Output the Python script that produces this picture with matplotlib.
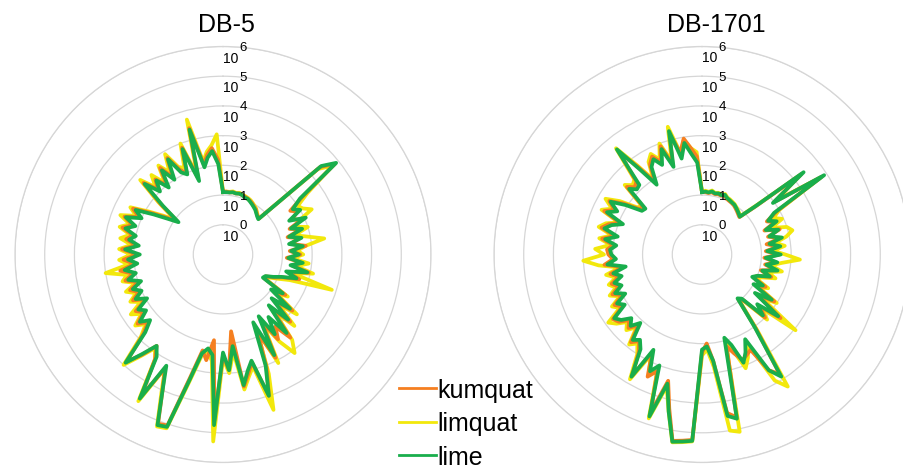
import numpy as np
import matplotlib
matplotlib.use('Agg')
import matplotlib.pyplot as plt
from matplotlib.lines import Line2D

plt.rcParams['font.family'] = ['Liberation Sans', 'DejaVu Sans']

# peak intensities, as powers of ten
# one compound every 3 degrees, clockwise from the top
kumquat_db5 = [
    1.12, 1.12, 1.1, 1.12, 1.1, 1.12, 1.1, 1.08, 1.05, 1.02, 0.98, 0.92, 0.88, 0.8, 0.74,
    0.7, 3.4, 3.85, 2.3, 1.7, 1.9, 1.6, 1.9, 1.4, 1.75, 1.25, 1.65, 1.3, 1.8, 1.25,
    1.6, 1.15, 1.65, 1.35, 1.95, 1.25, 1.7, 1.15, 0.9, 0.62, 0.6, 1.5, 1.1, 2.0, 1.3,
    2.2, 1.45, 2.6, 2.0, 2.4, 1.6, 2.9, 1.9, 3.1, 4.0, 2.75, 3.1, 3.5, 1.6, 2.9,
    2.4, 4.6, 1.9, 2.6, 2.3, 3.3, 5.05, 5.1, 4.0, 3.3, 4.5, 3.2, 2.8, 3.35, 3.85,
    2.8, 2.4, 2.7, 2.3, 2.5, 2.0, 2.4, 2.1, 2.35, 2.0, 2.4, 2.1, 2.5, 2.0, 2.35,
    1.9, 2.4, 1.95, 2.3, 2.1, 2.5, 2.2, 2.55, 2.1, 2.4, 1.8, 1.3, 0.9, 1.7, 2.6,
    2.1, 2.4, 2.0, 2.6, 2.1, 2.75, 2.2, 2.0, 2.85, 1.7, 3.4, 2.1, 2.4, 2.6, 2.2]
limquat_db5 = [
    1.1, 1.12, 1.12, 1.15, 1.12, 1.15, 1.12, 1.1, 1.08, 1.05, 1.0, 0.95, 0.9, 0.82, 0.75,
    0.72, 3.3, 3.75, 2.5, 2.0, 2.1, 2.35, 1.8, 1.6, 2.0, 1.5, 1.9, 2.45, 1.8, 1.5,
    1.7, 1.35, 1.9, 1.5, 2.1, 1.4, 2.85, 1.4, 1.0, 0.7, 0.65, 1.6, 1.2, 2.2, 1.5,
    2.4, 1.6, 2.7, 3.1, 2.5, 1.7, 3.1, 1.8, 3.3, 4.5, 2.9, 3.2, 3.6, 2.3, 3.0,
    2.5, 5.3, 2.6, 2.3, 2.5, 3.5, 5.15, 5.2, 4.1, 3.3, 4.7, 3.2, 2.9, 3.4, 4.0,
    2.9, 2.5, 2.8, 2.4, 2.7, 2.2, 2.5, 2.2, 2.5, 2.1, 2.5, 2.3, 3.0, 2.2, 2.5,
    2.1, 2.5, 2.1, 2.5, 2.2, 2.6, 2.3, 2.7, 2.2, 2.5, 1.9, 1.4, 1.0, 1.8, 2.75,
    2.2, 2.6, 2.1, 2.7, 2.3, 2.9, 2.3, 2.2, 3.0, 1.8, 3.7, 2.2, 2.5, 2.7, 3.05]
lime_db5 = [
    1.1, 1.1, 1.1, 1.12, 1.1, 1.12, 1.1, 1.05, 1.05, 1.0, 0.95, 0.9, 0.85, 0.78, 0.72,
    0.68, 3.45, 3.9, 2.2, 1.8, 2.0, 1.5, 2.05, 1.45, 1.8, 1.3, 1.7, 1.25, 1.7, 1.3,
    1.55, 1.2, 1.7, 1.3, 1.9, 1.2, 1.6, 1.1, 0.85, 0.6, 0.55, 1.4, 1.0, 1.9, 1.2,
    2.1, 1.3, 2.4, 1.6, 2.2, 1.4, 2.8, 1.5, 3.0, 4.0, 2.7, 3.0, 3.45, 2.1, 2.9,
    2.3, 4.75, 2.4, 2.2, 2.4, 3.4, 5.1, 5.15, 4.0, 3.2, 4.6, 3.1, 2.8, 3.3, 3.9,
    2.7, 2.3, 2.6, 2.2, 2.4, 1.95, 2.3, 2.0, 2.25, 1.9, 2.3, 2.0, 2.35, 1.9, 2.2,
    1.8, 2.3, 1.85, 2.2, 2.0, 2.4, 2.1, 2.5, 2.0, 2.3, 1.7, 1.2, 0.85, 1.6, 2.55,
    2.0, 2.35, 1.9, 2.5, 2.0, 2.7, 2.1, 1.95, 2.8, 1.6, 3.35, 2.0, 2.3, 2.5, 2.05]

kumquat_db1701 = [
    1.1, 1.1, 1.08, 1.12, 1.08, 1.1, 1.08, 1.12, 1.05, 1.02, 1.0, 0.97, 0.92, 0.87, 0.82,
    0.78, 1.4, 3.3, 2.0, 3.8, 1.9, 1.45, 1.7, 1.25, 1.75, 1.3, 1.7, 1.2, 1.6, 1.15,
    1.6, 1.1, 1.5, 1.15, 1.55, 1.05, 1.45, 1.0, 0.9, 1.4, 1.1, 1.9, 1.3, 2.4, 1.6,
    2.0, 1.05, 0.95, 2.1, 3.8, 3.5, 2.6, 2.7, 2.8, 2.5, 2.2, 4.6, 4.4, 2.6, 2.0,
    2.3, 5.25, 5.3, 5.35, 4.3, 3.4, 4.6, 3.2, 3.5, 2.7, 3.7, 2.9, 2.6, 2.8, 2.2,
    2.5, 2.3, 2.6, 2.7, 2.2, 2.4, 2.0, 2.3, 2.0, 2.2, 1.9, 2.15, 1.7, 2.3, 2.0,
    2.15, 2.2, 2.0, 2.4, 2.0, 2.5, 2.3, 1.95, 2.6, 2.3, 2.6, 2.15, 1.6, 1.55, 2.4,
    2.2, 2.3, 3.45, 2.6, 1.9, 2.5, 2.7, 2.4, 2.9, 2.2, 3.2, 2.5, 2.95, 2.6, 2.3]
limquat_db1701 = [
    1.12, 1.15, 1.12, 1.18, 1.12, 1.15, 1.12, 1.18, 1.1, 1.08, 1.05, 1.02, 0.97, 0.92, 0.87,
    0.82, 1.5, 3.2, 2.1, 3.75, 2.0, 1.7, 1.95, 1.5, 2.0, 2.15, 1.9, 1.5, 1.8, 1.4,
    1.8, 2.3, 1.7, 1.35, 1.75, 1.3, 1.6, 1.15, 1.0, 1.5, 1.2, 2.0, 1.5, 3.05, 1.7,
    2.1, 1.1, 1.0, 2.2, 4.3, 3.9, 2.4, 2.8, 3.1, 2.4, 2.1, 5.1, 5.0, 2.8, 2.2,
    2.4, 5.3, 5.35, 5.4, 4.4, 3.6, 4.8, 3.2, 3.4, 2.8, 3.85, 3.0, 2.7, 2.9, 2.3,
    2.6, 2.4, 2.7, 2.9, 2.3, 2.5, 2.1, 2.4, 2.1, 2.3, 2.0, 2.3, 1.8, 2.5, 3.0,
    2.3, 2.6, 2.1, 2.5, 2.1, 2.6, 2.4, 2.0, 2.7, 2.4, 2.75, 2.3, 1.7, 1.6, 2.5,
    2.3, 2.4, 3.6, 2.7, 2.0, 2.6, 2.8, 2.5, 3.0, 2.3, 3.45, 2.5, 2.9, 2.6, 2.45]
lime_db1701 = [
    1.1, 1.12, 1.1, 1.15, 1.1, 1.13, 1.1, 1.15, 1.08, 1.05, 1.02, 1.0, 0.95, 0.9, 0.85,
    0.8, 1.45, 3.4, 1.95, 3.9, 1.8, 1.5, 1.75, 1.3, 1.7, 1.35, 1.75, 1.3, 1.65, 1.2,
    1.65, 1.15, 1.55, 1.2, 1.6, 1.1, 1.4, 1.0, 0.85, 1.3, 1.0, 1.8, 1.2, 2.3, 1.5,
    1.9, 1.0, 0.9, 2.0, 3.9, 3.5, 2.2, 2.6, 2.9, 2.2, 1.9, 4.65, 4.5, 2.6, 2.1,
    2.2, 5.28, 5.33, 5.38, 4.4, 3.5, 4.73, 3.0, 3.3, 2.6, 3.75, 2.8, 2.55, 2.7, 2.1,
    2.4, 2.2, 2.5, 2.65, 2.1, 2.3, 1.9, 2.2, 1.9, 2.1, 1.8, 2.05, 1.6, 2.2, 1.9,
    2.05, 2.1, 1.9, 2.3, 1.9, 2.4, 2.2, 1.85, 2.5, 2.2, 2.55, 2.05, 1.5, 1.45, 2.3,
    2.1, 2.15, 3.55, 2.5, 1.8, 2.4, 2.6, 2.3, 2.8, 2.1, 3.3, 2.3, 2.8, 2.4, 2.1]

names = ['kumquat', 'limquat', 'lime']
colors = ['#F57F20', '#F2E80C', '#19AE4C']
decades = [0, 1, 2, 3, 4, 5, 6]

W, H = 904, 471
R = 208      # radius of the 10^6 ring, pixels
CY = 254.5

fig = plt.figure(figsize=(W / 100, H / 100), dpi=100)

panels = [('DB-5', 223, 226.5, [kumquat_db5, limquat_db5, lime_db5]),
          ('DB-1701', 702, 716, [kumquat_db1701, limquat_db1701, lime_db1701])]

for title, cx, tx, series in panels:
    ax = fig.add_axes([(cx - R) / W, (H - CY - R) / H, 2 * R / W, 2 * R / H],
                      projection='polar')
    ax.set_theta_zero_location('N')
    ax.set_theta_direction(-1)

    n = len(series[0])
    theta = np.deg2rad(np.arange(n + 1) * 360.0 / n)
    # yellow first, then orange, green on top
    for k in [1, 0, 2]:
        vals = np.append(series[k], series[k][0])
        ax.plot(theta, vals, color=colors[k], lw=2.7, label=names[k])

    ax.set_ylim(-1, 6)
    ax.set_yticks(decades)
    ax.set_yticklabels([])
    ax.set_xticks([])
    ax.grid(True, color='#d6d6d6', lw=0.9)
    ax.spines['polar'].set_color('#d6d6d6')
    ax.spines['polar'].set_linewidth(0.9)

    for d in decades:
        ax.annotate('10', xy=(0, d), xytext=(0, -5), textcoords='offset pixels',
                    ha='left', va='top', fontsize=10, zorder=10)
        ax.annotate(str(d), xy=(0, d), xytext=(16.5, 4.5), textcoords='offset pixels',
                    ha='left', va='top', fontsize=9.5, zorder=10)

    fig.text(tx / W, 1 - 32 / H, title, ha='center', va='baseline', fontsize=18)

# legend: short line at x-height level, label to its right
leg_rows = [388, 421.5, 455]
for k in range(3):
    y = 1 - leg_rows[k] / H
    fig.add_artist(Line2D([399 / W, 436 / W], [y, y], transform=fig.transFigure,
                          color=colors[k], lw=2.0))
    fig.text(437 / W, 1 - (leg_rows[k] + 10) / H, names[k], ha='left',
             va='baseline', fontsize=18)

fig.savefig('out.png', dpi=100)
